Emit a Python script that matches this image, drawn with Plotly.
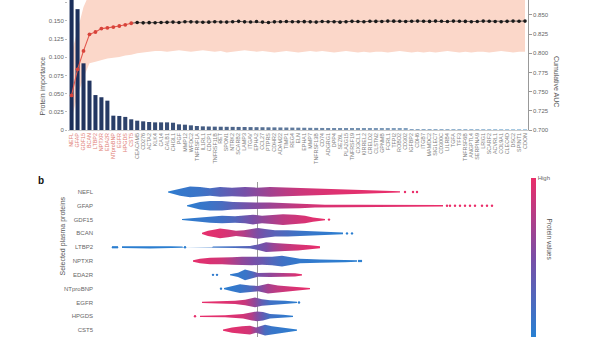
import plotly.graph_objects as go

# ---------------- data: panel a ----------------
proteins = ["NEFL", "GFAP", "GDF15", "BCAN", "LTBP2", "NPTXR", "EDA2R", "NTproBNP", "EGFR", "HPGDS", "CST5",
            "CEACAM5", "CD276", "ACTA2", "KLK4", "CA14", "CALB1", "CHI3L1", "PGF", "MMP12", "WFDC2", "TNFRSF1A",
            "IL1RL1", "CDCP1", "TNFRSF11B", "RET", "SPON1", "NTRK2", "SCARB2", "LAMP3", "ITGAV", "EPHA2", "CCL27",
            "PTPRS", "CDHR2", "ADAM22", "TIMP1", "REG4", "ELN", "EPHA1", "MMP7", "TNFRSF13B", "CD74", "ADGRG1",
            "DPP4", "SEZ6L", "PLA2G15", "TNFRSF19", "CX3CL1", "KIRREL2", "CRELD2", "CLSTN2", "GPNMB", "FCRL1", "TFPI2",
            "ROBO2", "CD302", "IGFBP2", "CDH6", "ITGB7", "MAMDC2", "SIGLEC7", "CD300C", "LILRB4", "TGFA", "TFF3",
            "TNFRSF6B", "ANGPTL4", "SERPINA9", "LRIG1", "SCARF2", "ACVRL1", "COL9A1", "CLEC4D", "DSC2", "SPINT1", "CDON"]
n_selected = 11

importance = [0.215, 0.166, 0.0916, 0.0678, 0.048, 0.045, 0.0403, 0.0197, 0.0193, 0.018, 0.0147,
              0.0128, 0.0119, 0.011, 0.0105, 0.0105, 0.0105, 0.010, 0.0078, 0.0073, 0.0064, 0.0055,
              0.0050, 0.0048, 0.0046, 0.0045, 0.0044, 0.0043, 0.0042, 0.0041, 0.0040, 0.0039, 0.0038,
              0.0037, 0.0036, 0.0035, 0.0034, 0.0033, 0.0032, 0.0031, 0.0030, 0.0029, 0.0028, 0.0027,
              0.0026, 0.0025, 0.0024, 0.0023, 0.0022, 0.0021, 0.0020, 0.0019, 0.0018, 0.0017, 0.0016,
              0.0015, 0.0014, 0.0013, 0.0012, 0.0012, 0.0011, 0.0011, 0.0010, 0.0010, 0.0009, 0.0009,
              0.0008, 0.0008, 0.0007, 0.0007, 0.0006, 0.0006, 0.0005, 0.0005, 0.0004, 0.0004, 0.0003]

cum_auc = [0.745, 0.779, 0.803, 0.8246, 0.8276, 0.832, 0.833, 0.834, 0.8354, 0.837, 0.839,
           0.8400, 0.8395, 0.8398, 0.8396, 0.8400, 0.8402, 0.8405, 0.8400, 0.8410, 0.8408,
           0.8405, 0.8403, 0.8404, 0.8410, 0.8406, 0.8405, 0.8410, 0.8415, 0.8408, 0.8406,
           0.8412, 0.8405, 0.8400, 0.8408, 0.8410, 0.8412, 0.8409, 0.8410, 0.8411, 0.8408,
           0.8405, 0.8412, 0.8410, 0.8409, 0.8404, 0.8410, 0.8415, 0.8412, 0.8410, 0.8416,
           0.8414, 0.8412, 0.8418, 0.8417, 0.8416, 0.8413, 0.8416, 0.8418, 0.8416, 0.8414,
           0.8418, 0.8416, 0.8412, 0.8418, 0.8416, 0.8414, 0.8410, 0.8412, 0.8418, 0.8416,
           0.8412, 0.8410, 0.8415, 0.8418, 0.8416, 0.8418]

auc_lower = [0.715, 0.745, 0.768, 0.787, 0.789, 0.791, 0.793, 0.794, 0.795, 0.797, 0.798,
             0.800, 0.801, 0.802, 0.803, 0.803, 0.802, 0.803, 0.804, 0.803, 0.802,
             0.803, 0.804, 0.803, 0.802, 0.803, 0.801, 0.802, 0.803, 0.804, 0.803,
             0.802, 0.803, 0.802, 0.801, 0.802, 0.803, 0.802, 0.801, 0.802, 0.803,
             0.802, 0.803, 0.802, 0.801, 0.802, 0.803, 0.802, 0.801, 0.802, 0.801,
             0.802, 0.802, 0.801, 0.802, 0.803, 0.802, 0.801, 0.802, 0.801, 0.802,
             0.801, 0.802, 0.803, 0.802, 0.801, 0.802, 0.801, 0.802, 0.802, 0.801,
             0.802, 0.803, 0.802, 0.801, 0.802, 0.802]

auc_upper = [0.800, 0.830, 0.860, 0.878, 0.880, 0.881, 0.882, 0.882, 0.883, 0.883, 0.884,
             0.884, 0.884, 0.885, 0.884, 0.885, 0.885, 0.884, 0.885, 0.885, 0.884,
             0.885, 0.884, 0.885, 0.885, 0.884, 0.885, 0.885, 0.884, 0.885, 0.885,
             0.884, 0.885, 0.885, 0.884, 0.885, 0.885, 0.884, 0.885, 0.885, 0.884,
             0.885, 0.885, 0.884, 0.885, 0.885, 0.884, 0.885, 0.885, 0.884, 0.885,
             0.885, 0.884, 0.885, 0.885, 0.884, 0.885, 0.885, 0.884, 0.885, 0.885,
             0.884, 0.885, 0.885, 0.884, 0.885, 0.885, 0.884, 0.885, 0.885, 0.884,
             0.885, 0.885, 0.884, 0.885, 0.885, 0.884]

auc_ticks = [0.700, 0.725, 0.750, 0.775, 0.800, 0.825, 0.850]
imp_ticks = [0, 0.025, 0.050, 0.075, 0.100, 0.125, 0.150, 0.175]

# ---------------- data: panel b (SHAP summary profiles) ----------------
NEFL_shap = [-0.89, -0.84, -0.77, -0.67, -0.57, -0.47, -0.37, -0.25, -0.12, 0.0, 0.13, 0.28, 0.43, 0.63, 0.83, 1.03, 1.23, 1.43]
NEFL_density = [0.1, 0.3, 0.7, 1.0, 0.9, 0.7, 0.9, 0.8, 0.9, 0.8, 0.9, 0.8, 0.8, 0.7, 0.5, 0.36, 0.24, 0.12]
NEFL_value = [0.02, 0.05, 0.08, 0.1, 0.12, 0.18, 0.28, 0.38, 0.48, 0.58, 0.68, 0.78, 0.86, 0.92, 0.95, 0.97, 0.98, 1.0]
NEFL_outliers = [1.48, 1.56, 1.60]

GFAP_shap = [-0.70, -0.64, -0.57, -0.47, -0.35, -0.24, -0.12, 0.0, 0.13, 0.28, 0.43, 0.58, 0.68, 1.03, 1.43, 1.86]
GFAP_density = [0.1, 0.4, 0.7, 0.9, 0.9, 0.7, 0.6, 0.6, 0.6, 0.5, 0.44, 0.32, 0.2, 0.18, 0.16, 0.12]
GFAP_value = [0.02, 0.05, 0.08, 0.12, 0.2, 0.32, 0.45, 0.55, 0.65, 0.75, 0.85, 0.9, 0.93, 0.95, 0.97, 1.0]
GFAP_outliers = [1.90, 1.93, 1.98, 2.03, 2.08, 2.13, 2.18, 2.25, 2.30, 2.35]

GDF15_shap = [-0.75, -0.67, -0.57, -0.47, -0.35, -0.22, -0.12, -0.04, 0.05, 0.15, 0.26, 0.38, 0.48, 0.56, 0.63, 0.68]
GDF15_density = [0.1, 0.24, 0.4, 0.6, 0.7, 0.6, 0.7, 0.9, 0.7, 0.8, 1.0, 0.9, 0.7, 0.4, 0.2, 0.12]
GDF15_value = [0.02, 0.05, 0.08, 0.1, 0.15, 0.25, 0.4, 0.5, 0.6, 0.7, 0.8, 0.86, 0.92, 0.95, 0.97, 1.0]
GDF15_outliers = [0.72]

BCAN_shap = [-0.55, -0.49, -0.42, -0.37, -0.29, -0.21, -0.13, -0.05, 0.01, 0.08, 0.18, 0.31, 0.43, 0.58, 0.73, 0.86]
BCAN_density = [0.12, 0.5, 0.7, 0.9, 0.7, 0.5, 0.6, 0.8, 1.0, 0.8, 0.6, 0.6, 0.5, 0.4, 0.3, 0.16]
BCAN_value = [0.98, 0.97, 0.95, 0.94, 0.9, 0.85, 0.75, 0.6, 0.5, 0.4, 0.3, 0.2, 0.12, 0.08, 0.05, 0.02]
BCAN_outliers = [0.90, 0.95]

LTBP2_shap = [-1.35, -1.07, -0.87, -0.75, -0.73, -0.45, -0.44, -0.22, -0.07, 0.01, 0.09, 0.17, 0.28, 0.41, 0.53, 0.63]
LTBP2_density = [0.16, 0.24, 0.2, 0.12, 0.0, 0.0, 0.12, 0.16, 0.24, 0.5, 0.9, 0.8, 0.7, 0.6, 0.36, 0.2]
LTBP2_value = [0.02, 0.02, 0.02, 0.02, 0.02, 0.1, 0.1, 0.2, 0.3, 0.4, 0.5, 0.65, 0.8, 0.9, 0.95, 1.0]
LTBP2_outliers = [-1.44, -1.42, -1.40, -0.72]

NPTXR_shap = [-0.64, -0.57, -0.47, -0.35, -0.25, -0.15, -0.05, 0.05, 0.15, 0.25, 0.35, 0.43, 0.63, 0.88, 1.0]
NPTXR_density = [0.12, 0.4, 0.6, 0.6, 0.7, 0.8, 0.8, 0.7, 0.8, 1.0, 0.7, 0.4, 0.3, 0.24, 0.12]
NPTXR_value = [0.98, 0.96, 0.93, 0.88, 0.75, 0.6, 0.5, 0.4, 0.25, 0.15, 0.1, 0.07, 0.05, 0.03, 0.02]
NPTXR_outliers = [1.02, 1.04]

EDA2R_shap = [-0.27, -0.19, -0.12, -0.05, 0.01, 0.13, 0.26, 0.38, 0.45]
EDA2R_density = [0.1, 0.4, 1.0, 0.6, 0.36, 0.4, 0.4, 0.3, 0.12]
EDA2R_value = [0.05, 0.08, 0.1, 0.2, 0.45, 0.6, 0.75, 0.9, 1.0]
EDA2R_outliers = [-0.44, -0.40]

NTproBNP_shap = [-0.33, -0.25, -0.17, -0.07, 0.01, 0.11, 0.21, 0.33, 0.43, 0.53]
NTproBNP_density = [0.1, 0.5, 0.8, 0.6, 0.5, 0.9, 0.6, 0.4, 0.3, 0.12]
NTproBNP_value = [0.03, 0.06, 0.1, 0.2, 0.45, 0.7, 0.82, 0.9, 0.95, 1.0]
NTproBNP_outliers = [-0.36]

EGFR_shap = [-0.55, -0.37, -0.22, -0.12, -0.02, 0.05, 0.13, 0.28, 0.40]
EGFR_density = [0.12, 0.2, 0.3, 0.5, 0.9, 0.6, 0.4, 0.3, 0.12]
EGFR_value = [0.98, 0.96, 0.92, 0.85, 0.6, 0.35, 0.15, 0.08, 0.03]
EGFR_outliers = [0.42]

HPGDS_shap = [-0.57, -0.32, -0.14, -0.05, 0.0, 0.06, 0.13, 0.26, 0.36]
HPGDS_density = [0.12, 0.2, 0.4, 0.8, 0.9, 0.8, 0.4, 0.3, 0.12]
HPGDS_value = [0.98, 0.96, 0.9, 0.75, 0.55, 0.35, 0.15, 0.08, 0.03]
HPGDS_outliers = [-0.62]

CST5_shap = [-0.34, -0.25, -0.15, -0.07, -0.01, 0.08, 0.15, 0.28, 0.40]
CST5_density = [0.12, 0.5, 0.7, 0.8, 0.5, 1.0, 0.7, 0.4, 0.12]
CST5_value = [0.98, 0.96, 0.93, 0.88, 0.6, 0.2, 0.1, 0.06, 0.03]
CST5_outliers = []

swarm_rows = [
    ("NEFL", NEFL_shap, NEFL_density, NEFL_value, NEFL_outliers),
    ("GFAP", GFAP_shap, GFAP_density, GFAP_value, GFAP_outliers),
    ("GDF15", GDF15_shap, GDF15_density, GDF15_value, GDF15_outliers),
    ("BCAN", BCAN_shap, BCAN_density, BCAN_value, BCAN_outliers),
    ("LTBP2", LTBP2_shap, LTBP2_density, LTBP2_value, LTBP2_outliers),
    ("NPTXR", NPTXR_shap, NPTXR_density, NPTXR_value, NPTXR_outliers),
    ("EDA2R", EDA2R_shap, EDA2R_density, EDA2R_value, EDA2R_outliers),
    ("NTproBNP", NTproBNP_shap, NTproBNP_density, NTproBNP_value, NTproBNP_outliers),
    ("EGFR", EGFR_shap, EGFR_density, EGFR_value, EGFR_outliers),
    ("HPGDS", HPGDS_shap, HPGDS_density, HPGDS_value, HPGDS_outliers),
    ("CST5", CST5_shap, CST5_density, CST5_value, CST5_outliers),
]

# ---------------- layout helpers ----------------
W, H = 600, 337
ML, MR, MT, MB = 68, 72, 0, 0
PW, PH = W - ML - MR, H - MT - MB


def px(x):
    return (x - ML) / PW


def py(y):
    return 1 - (y - MT) / PH


FONT = "Liberation Sans, Arial, sans-serif"
GREY = "#666666"
RED_LABEL = "#e07a72"

SCALE_STOPS = [(0.0, (40, 128, 210)), (0.5, (122, 78, 166)), (1.0, (234, 46, 106))]


def cmap(v):
    v = max(0.0, min(1.0, v))
    for (p0, c0), (p1, c1) in zip(SCALE_STOPS[:-1], SCALE_STOPS[1:]):
        if v <= p1:
            t = (v - p0) / (p1 - p0)
            r, g, b = [round(a + (b_ - a) * t) for a, b_ in zip(c0, c1)]
            return f"rgb({r},{g},{b})"
    r, g, b = SCALE_STOPS[-1][1]
    return f"rgb({r},{g},{b})"


colorscale = [[p, f"rgb{c}"] for p, c in SCALE_STOPS]

fig = go.Figure()

# ---------------- panel a ----------------
idx = list(range(len(proteins)))
fig.add_trace(go.Scatter(x=idx, y=auc_upper, mode="lines", line=dict(width=0),
                         hoverinfo="skip", showlegend=False, xaxis="x", yaxis="y"))
fig.add_trace(go.Scatter(x=idx, y=auc_lower, mode="lines", line=dict(width=0), fill="tonexty",
                         fillcolor="#fbd7c9", hoverinfo="skip", showlegend=False, xaxis="x", yaxis="y"))

c_dark, c_light = (27, 46, 90), (170, 204, 228)
bar_colors = []
for i in idx:
    t = i / (len(idx) - 1)
    r, g, b = [round(a + (bb - a) * t) for a, bb in zip(c_dark, c_light)]
    bar_colors.append(f"rgb({r},{g},{b})")
fig.add_trace(go.Bar(x=idx, y=importance, marker=dict(color=bar_colors, line=dict(width=0)), width=0.68,
                     showlegend=False, xaxis="x", yaxis="y2"))

fig.add_trace(go.Scatter(x=idx[n_selected - 1:], y=cum_auc[n_selected - 1:], mode="lines",
                         line=dict(color="#333333", width=0.8), showlegend=False, xaxis="x", yaxis="y3"))
fig.add_trace(go.Scatter(x=idx[n_selected:], y=cum_auc[n_selected:], mode="markers",
                         marker=dict(color="#1a1a1a", size=3.6), showlegend=False, xaxis="x", yaxis="y3"))
fig.add_trace(go.Scatter(x=idx[:n_selected], y=cum_auc[:n_selected], mode="lines+markers",
                         line=dict(color="#e2574d", width=1.1), marker=dict(color="#d8433a", size=3.8),
                         showlegend=False, xaxis="x", yaxis="y3"))

ticktext_a = []
for i, name in enumerate(proteins):
    col = RED_LABEL if i < n_selected else "#808080"
    ticktext_a.append(f'<span style="color:{col}">{name}</span>')

# ---------------- panel b ----------------
HALF = 0.39  # half-height (row units) of density 1.0
for r, (name, xs, dens, vals, outs) in enumerate(swarm_rows):
    xmin, xmax = xs[0], xs[-1]
    stops = [[(x - xmin) / (xmax - xmin), cmap(v)] for x, v in zip(xs, vals)]
    stops[0][0] = 0.0
    stops[-1][0] = 1.0
    poly_x = list(xs) + list(xs[::-1])
    poly_y = [r - d * HALF for d in dens] + [r + d * HALF for d in dens[::-1]]
    fig.add_trace(go.Scatter(x=poly_x, y=poly_y, mode="lines", fill="toself", line=dict(width=0),
                             fillgradient=dict(type="horizontal", colorscale=stops, start=xmin, stop=xmax),
                             hoverinfo="skip", showlegend=False, xaxis="x2", yaxis="y4"))
    if outs:
        dcols = [cmap(vals[0] if abs(o - xs[0]) < abs(o - xs[-1]) else vals[-1]) for o in outs]
        fig.add_trace(go.Scatter(x=outs, y=[r] * len(outs), mode="markers",
                                 marker=dict(size=2.4, color=dcols), hoverinfo="skip",
                                 showlegend=False, xaxis="x2", yaxis="y4"))

# colour bar holder
fig.add_trace(go.Scatter(x=[0], y=[-5], mode="markers", hoverinfo="skip", showlegend=False,
                         marker=dict(size=1, color=[1], colorscale=colorscale, cmin=0, cmax=1, showscale=True,
                                     colorbar=dict(x=px(531), xanchor="left", y=py(178), yanchor="top",
                                                   len=py(178), lenmode="fraction", thickness=5,
                                                   outlinewidth=0, xpad=0, ypad=0,
                                                   tickvals=[1], ticktext=["High"], ticks="",
                                                   tickfont=dict(size=6, color=GREY, family=FONT))),
                         xaxis="x2", yaxis="y4"))

row_names = [row[0] for row in swarm_rows]

fig.update_layout(
    width=W, height=H,
    margin=dict(l=ML, r=MR, t=MT, b=MB, autoexpand=False),
    paper_bgcolor="white", plot_bgcolor="rgba(0,0,0,0)",
    font=dict(family=FONT, size=6, color=GREY),
    bargap=0.3,
    xaxis=dict(domain=[0, 1], anchor="y", range=[-0.6, 76.5], tickmode="array", tickvals=idx,
               ticktext=ticktext_a, tickangle=-90, tickfont=dict(size=5.4), ticks="",
               showline=True, linecolor="#cccccc", linewidth=0.8, showgrid=False, zeroline=False,
               automargin=False),
    yaxis=dict(domain=[py(130), 1], anchor="x", side="right", range=[0.7, 0.7 + 0.025 * 130 / 19.2],
               tickmode="array", tickvals=auc_ticks, ticktext=[f"{v:.3f}" for v in auc_ticks],
               ticks="outside", ticklen=3, tickcolor="#999999", tickwidth=0.8,
               showline=True, linecolor="#999999", linewidth=0.8, showgrid=False, zeroline=False,
               tickfont=dict(size=6), automargin=False),
    yaxis2=dict(overlaying="y", side="left", range=[0, 0.025 * 130 / 18.2],
                tickmode="array", tickvals=imp_ticks,
                ticktext=["0"] + [f"{v:.3f}" for v in imp_ticks[1:]],
                ticks="outside", ticklen=2, tickcolor="#bbbbbb", showline=False, showgrid=False,
                zeroline=False, tickfont=dict(size=6), automargin=False),
    yaxis3=dict(overlaying="y", range=[0.7, 0.7 + 0.025 * 130 / 19.2], visible=False),
    xaxis2=dict(domain=[px(94), 1], anchor="y4", range=[-1.63, 2.71], showticklabels=False, ticks="",
                showgrid=False, showline=False, zeroline=True, zerolinecolor="#9a9a9a", zerolinewidth=0.8,
                automargin=False),
    yaxis4=dict(domain=[0, py(182)], anchor="x2", range=[10.5, -0.72], tickmode="array",
                tickvals=list(range(len(row_names))), ticktext=row_names, ticks="", showgrid=False,
                zeroline=False, showline=False, tickfont=dict(size=6), automargin=False),
    annotations=[
        dict(text="Protein importance", x=px(36), y=py(55), xref="paper", yref="paper", showarrow=False,
             textangle=-90, font=dict(size=7, color="#555555")),
        dict(text="Cumulative AUC", x=px(562), y=py(54), xref="paper", yref="paper", showarrow=False,
             textangle=90, font=dict(size=7, color="#555555")),
        dict(text="<b>b</b>", x=px(36), y=py(180), xref="paper", yref="paper", showarrow=False,
             font=dict(size=10, color="#111111")),
        dict(text="Selected plasma proteins", x=px(56), y=py(278), xref="paper", yref="paper",
             showarrow=False, textangle=-90, font=dict(size=7, color="#555555")),
        dict(text="Protein values", x=px(555), y=py(262), xref="paper", yref="paper", showarrow=False,
             textangle=90, font=dict(size=6.5, color="#555555")),
    ],
)

fig.write_html("out.html")
